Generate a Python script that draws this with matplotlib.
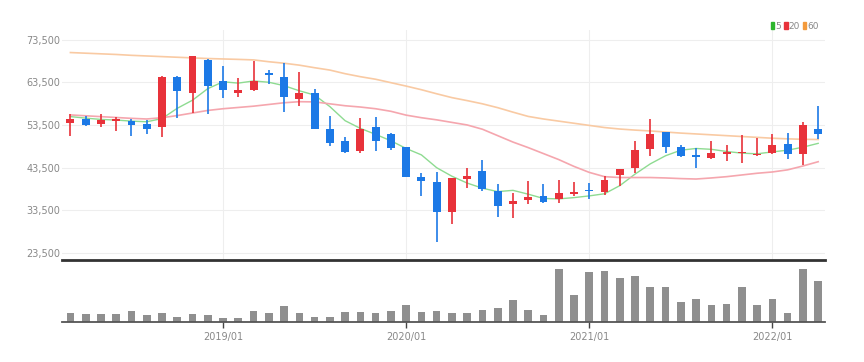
import numpy as np
import pandas as pd
import matplotlib
matplotlib.use("Agg")
from matplotlib import pyplot as plt
from matplotlib.patches import Patch

plt.rcParams['font.family'] = ['Liberation Sans Narrow', 'DejaVu Sans']

# monthly candles 2018/03 .. 2022/04
months = pd.date_range("2018-03-01", periods=50, freq="MS")

opens = [54050, 54830, 53660, 54440, 54360, 53740, 52960, 64830, 61080, 68730,
         63890, 61080, 61700, 65610, 64670, 59520, 60920, 52490, 49830, 47410,
         53110, 51320, 48270, 41400, 40230, 33200, 40930, 42800, 38120, 35000,
         35930, 36950, 36090, 37340, 38270, 37730, 41710, 43350, 47960, 51790,
         48350, 46470, 45850, 46790, 46940, 46470, 46860, 48970, 46630, 52640]
closes = [54830, 53500, 54600, 54990, 53580, 52570, 64830, 61470, 69670, 62720,
          61700, 61780, 63890, 65140, 60140, 60920, 52640, 49210, 47180, 52640,
          49680, 48190, 41240, 40300, 33120, 41010, 41550, 38590, 34600, 35700,
          36710, 35380, 37490, 37730, 37960, 40620, 43120, 47650, 51320, 48430,
          46240, 45930, 47020, 47100, 47250, 46710, 48820, 46710, 53500, 51320]
highs = [56080, 55610, 56000, 55300, 54990, 54670, 64980, 64980, 69670, 68890,
         67330, 64440, 68500, 66390, 68110, 66000, 61860, 55610, 50610, 55070,
         55300, 51550, 48430, 42330, 42570, 41010, 43350, 45300, 39680, 37650,
         40380, 39600, 40620, 40230, 39840, 41550, 43120, 49830, 54830, 51790,
         48890, 48040, 49830, 48820, 51160, 50530, 51390, 51550, 54280, 57950]
lows = [51000, 53270, 52960, 52180, 51000, 51320, 50610, 55070, 56390, 56080,
        59750, 60140, 61550, 63030, 56630, 58030, 52640, 48580, 46860, 47020,
        47330, 47650, 41240, 36870, 26010, 30310, 38660, 38120, 31870, 31640,
        35000, 35230, 35300, 36950, 36090, 37100, 39210, 42180, 46320, 46860,
        45930, 43510, 45460, 45150, 44520, 46240, 46630, 45540, 44050, 50140]

ma5 = [55460, 55100, 54800, 54650, 54400, 54250, 55000, 57400, 59300, 62000,
       63600, 63300, 63800, 63500, 62700, 61500, 60500, 57800, 54500, 52700,
       51300, 49800, 48000, 46500, 43500, 41500, 39900, 38700, 37900, 38200,
       37300, 36300, 36200, 36500, 36900, 37400, 39300, 42000, 44400, 46300,
       47600, 48000, 47800, 47300, 46900, 46750, 47200, 47600, 48300, 49200]
ma20 = [55850, 55650, 55450, 55250, 55050, 54900, 55200, 55700, 56300, 56900,
        57300, 57600, 57900, 58300, 58700, 58950, 58900, 58450, 58000, 57700,
        57300, 56700, 55800, 55200, 54700, 54100, 53500, 52500, 51000, 49500,
        48200, 46800, 45400, 43800, 42400, 41400, 41200, 41200, 41200, 41100,
        40950, 40850, 41100, 41400, 41800, 42200, 42500, 43000, 43900, 44900]
ma60 = [70450, 70300, 70150, 70000, 69800, 69650, 69500, 69350, 69200, 69050,
        68950, 68850, 68730, 68300, 67950, 67500, 66900, 66350, 65500, 64800,
        64200, 63400, 62600, 61750, 60800, 59900, 59200, 58450, 57550, 56500,
        55500, 54900, 54400, 53900, 53400, 52900, 52550, 52300, 52100, 51850,
        51600, 51400, 51200, 51000, 50800, 50600, 50400, 50250, 50150, 50100]

volume = [27, 25, 25, 25, 32, 20, 27, 15, 25, 20, 12, 13, 32, 27, 47, 27, 15, 15,
          30, 30, 27, 32, 50, 30, 32, 27, 27, 37, 42, 67, 37, 22, 158, 80, 150,
          153, 133, 138, 105, 105, 60, 70, 52, 55, 104, 50, 70, 27, 160, 124]
volume = [v * 1000 for v in volume]

price_ticks = [23500, 33500, 43500, 53500, 63500, 73500]

RED = "#e8323a"
BLUE = "#1c79e6"

x = np.arange(len(months))
o = np.array(opens); c = np.array(closes)
up = c >= o
colors = np.where(up, RED, BLUE)

fig = plt.figure(figsize=(8.64, 3.62), dpi=100)
ax = fig.add_axes([0.0718, 0.2818, 0.8831, 0.635])
axv = fig.add_axes([0.0718, 0.1105, 0.8831, 0.1657], sharex=ax)

# candles
ax.vlines(x, lows, highs, colors=colors, lw=1.2, zorder=3)
body_h = np.maximum(np.abs(c - o), 250)
ax.bar(x, body_h, bottom=np.minimum(o, c), width=0.52, color=colors, zorder=4)

ax.plot(x, ma5, color="#8edb91", lw=1.0, zorder=2)
ax.plot(x, ma20, color="#f5a6ae", lw=1.2, zorder=2)
ax.plot(x, ma60, color="#f9caa3", lw=1.2, zorder=2)

jan = [i for i, m in enumerate(months) if m.month == 1]
jan_labels = [months[i].strftime("%Y/%m") for i in jan]

ax.set_xlim(-0.55, 49.45)
ax.set_ylim(21900, 75700)
ax.set_yticks(price_ticks)
ax.set_yticklabels([f"{t:,}" for t in price_ticks])
ax.tick_params(axis="y", length=0, pad=1, labelsize=7, labelcolor="#888888")
ax.tick_params(axis="x", length=0, labelbottom=False)
ax.set_xticks(jan)
ax.grid(True, color="#eeeeee", lw=0.8)
ax.set_axisbelow(True)
for s in ["top", "right", "left"]:
    ax.spines[s].set_visible(False)
ax.spines["bottom"].set_color("#333333")
ax.spines["bottom"].set_linewidth(2)

# volume
axv.bar(x, volume, width=0.5, color="#8f8f8f")
axv.set_ylim(0, 180000)
axv.set_yticks([])
for s in ["top", "right", "left"]:
    axv.spines[s].set_visible(False)
axv.spines["bottom"].set_color("#555555")
axv.spines["bottom"].set_linewidth(1.3)
axv.set_xticks(jan)
axv.set_xticklabels(jan_labels)
axv.tick_params(axis="x", length=4, width=1, color="#444444", pad=3,
                labelsize=7, labelcolor="#888888")

handles = [Patch(color="#2db52d", label="5"), Patch(color=RED, label="20"),
           Patch(color="#f39a3c", label="60")]
fig.legend(handles=handles, loc="upper right", bbox_to_anchor=(0.953, 0.952),
           ncol=3, frameon=False, handlelength=0.4, handleheight=0.85,
           handletextpad=0.12, columnspacing=0.3, fontsize=6.5, labelcolor="#888888",
           borderpad=0)

fig.savefig("out.png", dpi=100)
